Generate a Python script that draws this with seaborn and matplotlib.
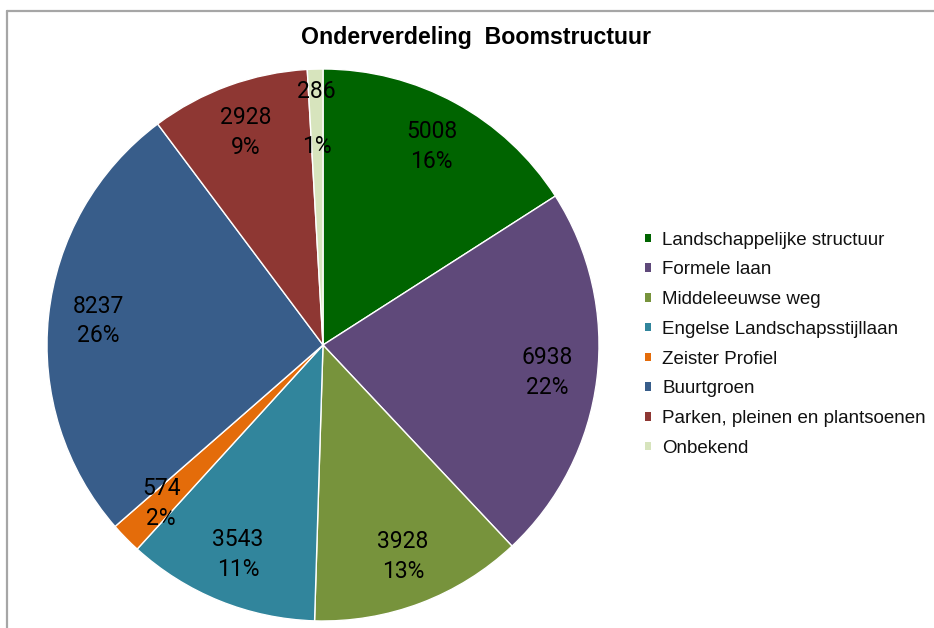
import numpy as np
import matplotlib
matplotlib.use("Agg")
import matplotlib.pyplot as plt
from matplotlib.lines import Line2D
from matplotlib.patches import Patch
import seaborn as sns

# Data
categories = ["Landschappelijke structuur", "Formele laan", "Middeleeuwse weg",
              "Engelse Landschapsstijllaan", "Zeister Profiel", "Buurtgroen",
              "Parken, pleinen en plantsoenen", "Onbekend"]
counts = [5008, 6938, 3928, 3543, 574, 8237, 2928, 286]
colors = ["#006400", "#5f497a", "#77933c", "#31859c",
          "#e46c0a", "#385d8a", "#8e3733", "#d7e4bd"]

sns.set_theme(style="white")
plt.rcParams['font.family'] = ['Roboto', 'DejaVu Sans']
plt.rcParams['text.color'] = 'black'

# percentages rounded so they add up to 100 (largest remainder, like Excel)
raw = np.array(counts) / sum(counts) * 100
pcts = np.floor(raw).astype(int)
for i in np.argsort(-(raw - pcts))[:100 - pcts.sum()]:
    pcts[i] += 1

fig = plt.figure(figsize=(9.34, 6.28), dpi=100)
ax = fig.add_axes([47 / 934, 7 / 628, 552 / 934, 552 / 628])

wedges, _ = ax.pie(counts, colors=colors, startangle=90, counterclock=False,
                   radius=1.0, wedgeprops=dict(edgecolor="white", linewidth=1.0))
ax.set_xlim(-1, 1)
ax.set_ylim(-1, 1)
ax.set_aspect("equal")

for w, c, p in zip(wedges, counts, pcts):
    mid = np.deg2rad((w.theta1 + w.theta2) / 2)
    r = 0.82
    spacing = 2.75 if c < 400 else 1.37
    ax.text(r * np.cos(mid), r * np.sin(mid), f"{c}\n{p}%", ha="center", va="center",
            fontsize=16.5, linespacing=spacing, color="black", family="Roboto")

fig.text(0.51, 0.941, "Onderverdeling  Boomstructuur", ha="center", va="center",
         fontsize=16.7, fontweight="bold", family="Liberation Sans", color="black")

handles = [Patch(facecolor=col, edgecolor="none") for col in colors]
leg = fig.legend(handles, categories, loc="upper left", bbox_to_anchor=(0.6725, 0.658),
                 frameon=False, handlelength=0.33, handleheight=0.33,
                 handletextpad=0.59, labelspacing=0.68,
                 prop={"family": "Liberation Sans", "size": 13.5})
for t in leg.get_texts():
    t.set_color("#111111")

# outer chart frame (left and top edges)
fig.add_artist(Line2D([7 / 934, 7 / 934], [0, 1 - 10.5 / 628], color="#a6a6a6", lw=1.6,
                      transform=fig.transFigure))
fig.add_artist(Line2D([7 / 934, 1], [1 - 10.5 / 628, 1 - 10.5 / 628], color="#a6a6a6", lw=1.6,
                      transform=fig.transFigure))

fig.savefig("out.png", dpi=100, facecolor="white")
